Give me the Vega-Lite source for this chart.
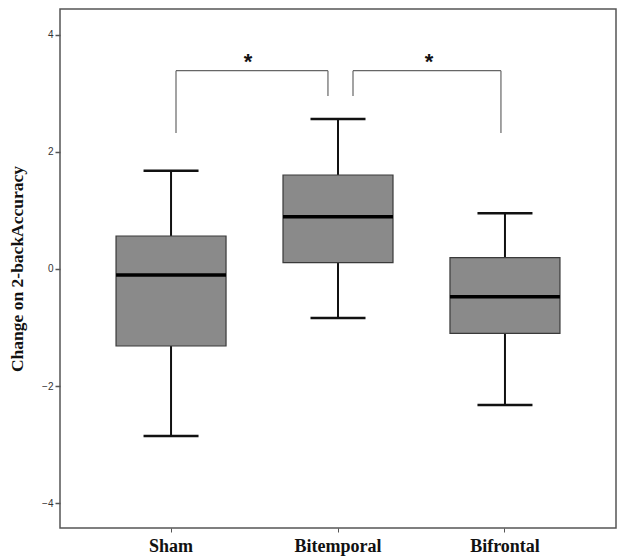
{
  "$schema": "https://vega.github.io/schema/vega-lite/v6.json",
  "width": 556,
  "height": 519,
  "autosize": "none",
  "padding": {"left": 60, "top": 9, "right": 4, "bottom": 29},
  "background": "white",
  "config": {
    "view": {"stroke": "#555", "strokeWidth": 1.5},
    "axis": {"grid": false}
  },
  "datasets": {
    "stats": [
      {"group": "Sham", "lower": -2.855, "q1": -1.316, "median": -0.103, "q3": 0.564, "upper": 1.68},
      {"group": "Bitemporal", "lower": -0.838, "q1": 0.108, "median": 0.894, "q3": 1.607, "upper": 2.564},
      {"group": "Bifrontal", "lower": -2.325, "q1": -1.099, "median": -0.474, "q3": 0.193, "upper": 0.952}
    ],
    "brackets": [
      {"x": 1.03, "x2": 1.94, "y": 3.39, "y2": 3.39},
      {"x": 1.03, "x2": 1.03, "y": 3.39, "y2": 2.325},
      {"x": 1.94, "x2": 1.94, "y": 3.39, "y2": 2.957},
      {"x": 2.09, "x2": 2.976, "y": 3.39, "y2": 3.39},
      {"x": 2.09, "x2": 2.09, "y": 3.39, "y2": 2.957},
      {"x": 2.976, "x2": 2.976, "y": 3.39, "y2": 2.325}
    ],
    "stars": [
      {"x": 1.461, "y": 3.607, "label": "*"},
      {"x": 2.545, "y": 3.607, "label": "*"}
    ]
  },
  "layer": [
    {
      "data": {"name": "stats"},
      "encoding": {
        "x": {
          "field": "group", "type": "nominal", "sort": ["Sham", "Bitemporal", "Bifrontal"],
          "scale": {"paddingInner": 0, "paddingOuter": 0.165},
          "axis": {"title": null, "labelAngle": 0, "labelFont": "Liberation Serif", "labelFontWeight": "bold", "labelFontSize": 18, "labelColor": "#111", "labelPadding": 5, "tickSize": 4, "tickColor": "#555", "domain": false}
        },
        "y": {
          "type": "quantitative",
          "scale": {"domain": [-4.427, 4.444], "nice": false, "zero": false},
          "axis": {"values": [-4, -2, 0, 2, 4], "format": "d", "title": "Change on 2-backAccuracy", "titleFont": "Liberation Serif", "titleFontWeight": "bold", "titleFontSize": 17.5, "titleColor": "#111", "titlePadding": 15, "labelFont": "Liberation Sans", "labelFontSize": 10, "labelColor": "#333", "labelPadding": 2, "tickSize": 5, "tickColor": "#555", "tickWidth": 1.5, "domain": false}
        }
      },
      "layer": [
        {"mark": {"type": "rule", "color": "#111", "strokeWidth": 2}, "encoding": {"y": {"field": "lower", "type": "quantitative"}, "y2": {"field": "q1"}}},
        {"mark": {"type": "rule", "color": "#111", "strokeWidth": 2}, "encoding": {"y": {"field": "q3", "type": "quantitative"}, "y2": {"field": "upper"}}},
        {"mark": {"type": "bar", "size": 110, "fill": "#8a8a8a", "opacity": 1, "stroke": "#3a3a3a", "strokeWidth": 1.2}, "encoding": {"y": {"field": "q1", "type": "quantitative"}, "y2": {"field": "q3"}}},
        {"mark": {"type": "tick", "size": 110, "thickness": 3.5, "color": "#000", "opacity": 1}, "encoding": {"y": {"field": "median", "type": "quantitative"}}},
        {"mark": {"type": "tick", "size": 55, "thickness": 2.5, "color": "#111", "opacity": 1}, "encoding": {"y": {"field": "upper", "type": "quantitative"}}},
        {"mark": {"type": "tick", "size": 55, "thickness": 2.5, "color": "#111", "opacity": 1}, "encoding": {"y": {"field": "lower", "type": "quantitative"}}}
      ]
    },
    {
      "data": {"name": "brackets"},
      "mark": {"type": "rule", "color": "#666", "strokeWidth": 1.2},
      "encoding": {
        "x": {"field": "x", "type": "quantitative", "scale": {"domain": [0.3353, 3.665], "nice": false, "zero": false}, "axis": null},
        "x2": {"field": "x2"},
        "y": {"field": "y", "type": "quantitative"},
        "y2": {"field": "y2"}
      }
    },
    {
      "data": {"name": "stars"},
      "mark": {"type": "text", "font": "Liberation Sans", "fontSize": 22, "fontWeight": "bold", "color": "#111", "baseline": "middle", "dy": 4},
      "encoding": {
        "x": {"field": "x", "type": "quantitative", "scale": {"domain": [0.3353, 3.665], "nice": false, "zero": false}, "axis": null},
        "y": {"field": "y", "type": "quantitative"},
        "text": {"field": "label"}
      }
    }
  ],
  "resolve": {"scale": {"x": "independent"}}
}
